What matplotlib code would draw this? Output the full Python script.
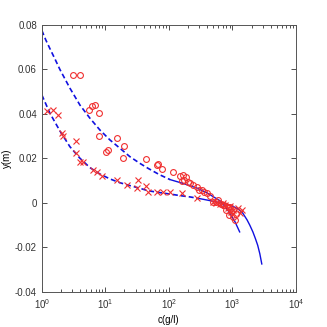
import numpy as np
import matplotlib
matplotlib.use('Agg')
import matplotlib.pyplot as plt

plt.rcParams['font.family'] = ['Liberation Sans Narrow', 'Liberation Sans', 'DejaVu Sans']
plt.rcParams['mathtext.default'] = 'regular'

# measured points (circles)
c_circ = [3.08, 3.97, 5.5, 6.1, 6.8, 7.9, 8.0, 10.2, 11.0, 15.2, 19.5, 18.8, 43,
          65, 67, 78, 116, 150, 160, 166, 175, 185, 200, 214, 240, 275, 300, 330,
          360, 396, 450, 490, 560, 600, 650, 700, 750, 800, 840, 880, 900, 950,
          1020, 1020, 1100, 1150]
y_circ = [0.0575, 0.0575, 0.0418, 0.0436, 0.0440, 0.0404, 0.0302, 0.0229, 0.0238,
          0.0292, 0.0256, 0.0202, 0.0197, 0.0171, 0.0175, 0.0153, 0.0140, 0.0120,
          0.0099, 0.0126, 0.0105, 0.0117, 0.0095, 0.0090, 0.0080, 0.0072, 0.0060,
          0.0058, 0.0050, 0.0045, 0.0030, 0.0005, 0.0003, 0.0015, -0.0005,
          -0.0009, -0.0010, -0.0030, -0.0018, -0.0055, -0.0020, -0.0040, -0.0031,
          -0.0063, -0.0076, -0.0050]

# measured points (crosses)
c_x = [1.2, 1.49, 1.79, 2.06, 2.14, 3.5, 3.43, 3.97, 4.46, 6.43, 7.27, 8.7, 15,
       22, 32.9, 31.7, 43.5, 47, 65, 80, 104, 160, 275, 490, 550, 640, 700, 760,
       840, 900, 950, 1020, 1220, 1300, 1400]
y_x = [0.0413, 0.0418, 0.0396, 0.0315, 0.0300, 0.0279, 0.0223, 0.0186, 0.0183,
       0.0148, 0.0141, 0.0123, 0.0103, 0.0081, 0.0103, 0.0066, 0.0078, 0.0050,
       0.0050, 0.0050, 0.0050, 0.0045, 0.0022, 0.0003, 0.0000, -0.0005, 0.0000,
       -0.0010, -0.0022, -0.0015, -0.0040, -0.0030, -0.0022, -0.0045, -0.0031]

# fitted curves, upper (circles)
c_up_dash = [1, 1.15, 1.34, 1.6, 1.92, 2.76, 3.97, 5.7, 8.19, 11.8, 16.9, 24.3,
             34.9, 46.7, 70, 104]
y_up_dash = [0.0775, 0.0733, 0.0693, 0.0648, 0.0600, 0.0516, 0.0440, 0.0381,
             0.0328, 0.0283, 0.0246, 0.0208, 0.0178, 0.0156, 0.0128, 0.0105]
c_up_sol = [104, 166, 275, 400, 500, 636, 760, 910, 1100, 1300]
y_up_sol = [0.0105, 0.0088, 0.0067, 0.0045, 0.0028, 0.0010, -0.0015, -0.0045,
            -0.0085, -0.0130]

# fitted curves, lower (crosses)
c_lo_dash = [1, 1.34, 1.92, 2.76, 3.97, 5.7, 8.19, 11.8, 16.9, 24.3, 34.9, 46.7,
             70, 104, 150, 215, 275]
y_lo_dash = [0.0485, 0.0403, 0.0324, 0.0253, 0.0201, 0.0159, 0.0130, 0.0108,
             0.0091, 0.0078, 0.0066, 0.0055, 0.0047, 0.0040, 0.0033, 0.0027,
             0.0022]
c_lo_sol = [275, 400, 570, 800, 1020, 1250, 1450, 1700, 1880, 2100, 2300, 2500,
            2700, 2900]
y_lo_sol = [0.0022, 0.0013, 0.0004, -0.0005, -0.0015, -0.0028, -0.0045, -0.0076,
            -0.0100, -0.0130, -0.0160, -0.0190, -0.0228, -0.0274]

fig = plt.figure(figsize=(3.27, 3.27), dpi=100)
ax = fig.add_axes([0.128, 0.107, 0.777, 0.817])

ax.plot(c_up_dash, y_up_dash, color='#1010e0', ls=(0, (3, 1.8)), lw=1.2)
ax.plot(c_lo_dash, y_lo_dash, color='#1010e0', ls=(0, (3, 1.8)), lw=1.2)
ax.plot(c_up_sol, y_up_sol, color='#1010e0', lw=1.0)
ax.plot(c_lo_sol, y_lo_sol, color='#1010e0', lw=1.0)
ax.plot(c_circ, y_circ, 'o', mfc='none', mec='#f03030', ms=4.2, mew=0.8)
ax.plot(c_x, y_x, 'x', color='#f03030', ms=4.8, mew=0.8)

ax.set_xscale('log')
ax.set_xlim(1, 1e4)
ax.set_ylim(-0.04, 0.08)
ax.set_yticks([-0.04, -0.02, 0, 0.02, 0.04, 0.06, 0.08])
ax.set_yticklabels(['-0.04', '-0.02', '0', '0.02', '0.04', '0.06', '0.08'])
ax.tick_params(which='both', direction='in', top=True, right=True,
               labelsize=7, colors='#333333')
ax.tick_params(which='major', length=3.5, width=0.6)
ax.tick_params(which='minor', length=2, width=0.6)
for s in ax.spines.values():
    s.set_color('#555555')
    s.set_linewidth(0.7)

ax.set_xlabel('c(g/l)', fontsize=7, labelpad=3)
ax.set_ylabel('y(m)', fontsize=7, labelpad=2)

fig.savefig('out.png', dpi=100)
